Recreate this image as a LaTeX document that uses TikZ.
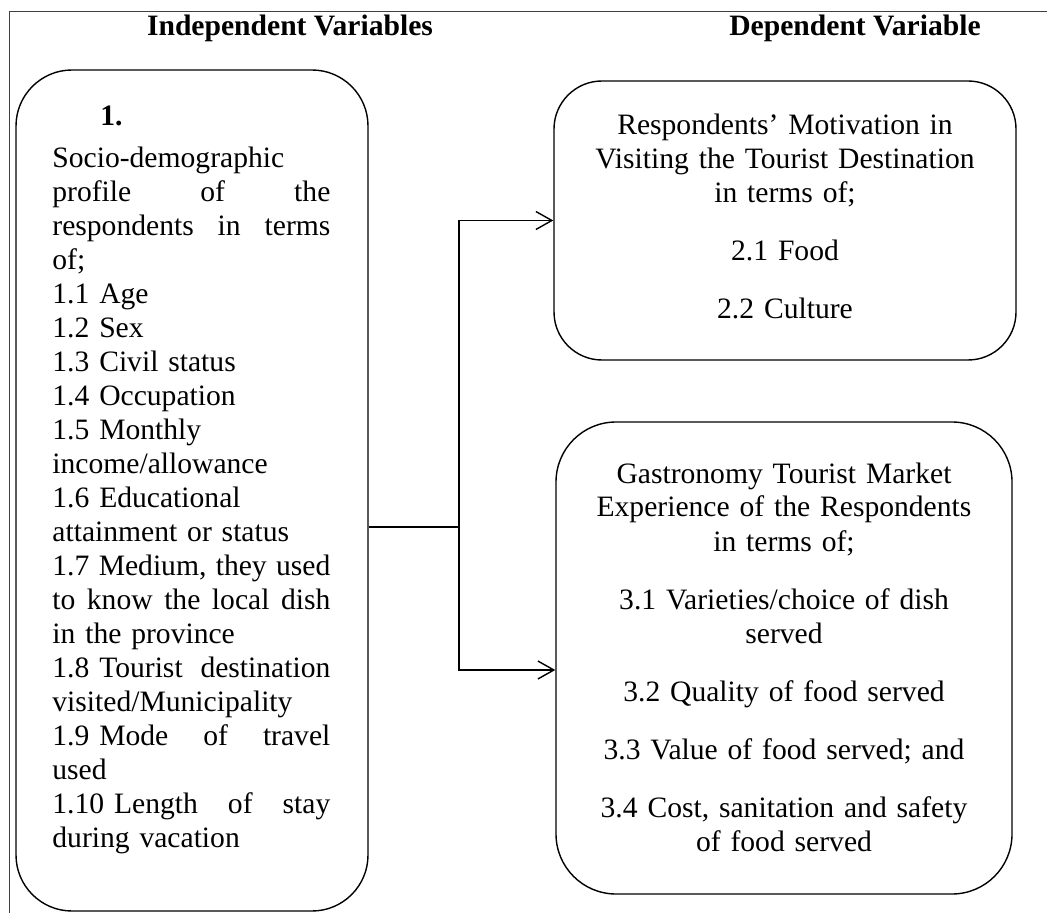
\documentclass[tikz,border=0pt]{standalone}
\usepackage{fontspec}
\setmainfont{Liberation Serif}
\usetikzlibrary{arrows.meta}
\newcommand{\jline}[1]{\leavevmode\hbox to 139pt{#1}}
\begin{document}
\begin{tikzpicture}[
            x=0.5pt,y=-0.5pt,
            font=\fontsize{14.8pt}{17pt}\selectfont,
            box/.style={rectangle,draw,line width=0.7pt,inner sep=0pt,rounded corners=#1},
            box/.default=28pt,
            head/.style={anchor=base,inner sep=0pt,font=\fontsize{14.8pt}{17pt}\selectfont\bfseries},
            lefttext/.style={anchor=base west,inner sep=0pt,text width=139pt,align=left},
            midtext/.style={anchor=base,inner sep=0pt,text width=228pt,align=center},
            link/.style={line width=0.7pt},
            arr/.style={link,-{Straight Barb[length=8pt,width=9pt]}}
        ]
            \useasboundingbox (0,0) rectangle (1047,913);
            \draw[black!75,line width=0.5pt] (9,913) -- (9,12) -- (1047,12);

            \node[head] (indep) at (290,36) {Independent Variables};
            \node[head] (dep) at (855,36) {Dependent Variable};

            \node[box,minimum width=176pt,minimum height=420.5pt] (profile) at (192,490.5) {};
            \node[box=24pt,minimum width=231pt,minimum height=139.5pt] (motive) at (785,220.5) {};
            \node[box=30pt,minimum width=228pt,minimum height=236pt] (market) at (784,658) {};

            \node[lefttext] (profiletext) at (52,126) {\hspace*{24pt}\textbf{1.}\\[4pt]
                Socio-demographic\\
                \jline{profile\hfill of\hfill the}\\
                \jline{respondents\hfill in\hfill terms}\\
                of;\\
                1.1 Age\\
                1.2 Sex\\
                1.3 Civil status\\
                1.4 Occupation\\
                1.5 Monthly\\
                income/allowance\\
                1.6 Educational\\
                attainment or status\\
                \jline{1.7\hfill Medium,\hfill they\hfill used}\\
                \jline{to\hfill know\hfill the\hfill local\hfill dish}\\
                in the province\\
                \jline{1.8 Tourist\hfill destination}\\
                visited/Municipality\\
                \jline{1.9 Mode\hfill of\hfill travel}\\
                used\\
                \jline{1.10 Length\hfill of\hfill stay}\\
                during vacation};
            \node[midtext] (motivetext) at (785,135) {Respondents' Motivation in\\
                Visiting the Tourist Destination\\
                in terms of;\\[12pt]
                2.1 Food\\[12pt]
                2.2 Culture};
            \node[midtext] (markettext) at (784,483) {Gastronomy Tourist Market\\
                Experience of the Respondents\\
                in terms of;\\[12pt]
                3.1 Varieties/choice of dish\\
                served\\[12pt]
                3.2 Quality of food served\\[12pt]
                3.3 Value of food served; and\\[12pt]
                3.4 Cost, sanitation and safety\\
                of food served};

            \coordinate (split) at (459,527);
            \coordinate (marketin) at (market.west |- 0,670);
            \draw[link] (profile.east |- split) -- (split);
            \draw[arr] (split) |- (motive.west);
            \draw[arr] (split) |- (marketin);
        \end{tikzpicture}
\end{document}
